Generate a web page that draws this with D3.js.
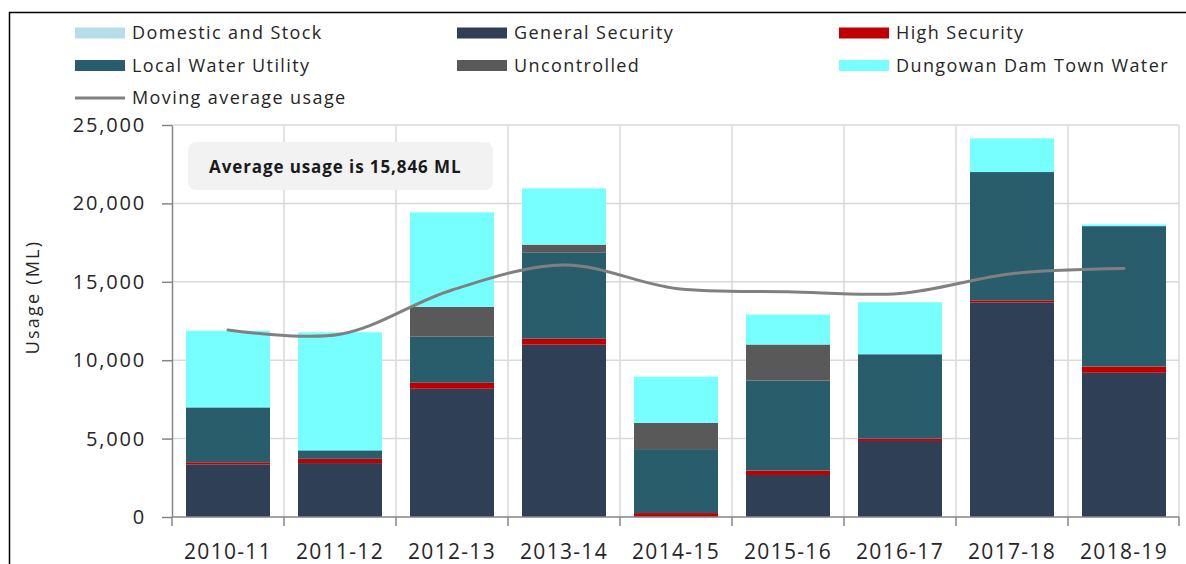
<!DOCTYPE html>
<html>
<head>
<meta charset="utf-8">
<script src="https://cdn.jsdelivr.net/npm/d3@7"></script>
<style>
  body { margin: 0; background: #fff; }
  svg { display: block; font-family: "Open Sans", sans-serif; }
</style>
</head>
<body>
<svg width="1186" height="564"></svg>
<script>
// data (ML)
const categories = ["2010-11", "2011-12", "2012-13", "2013-14", "2014-15", "2015-16", "2016-17", "2017-18", "2018-19"];
const domesticStock = [0, 0, 0, 0, 0, 0, 0, 0, 0];
const generalSecurity = [3360, 3440, 8180, 10990, 0, 2680, 4850, 13690, 9200];
const highSecurity = [130, 270, 380, 380, 250, 280, 150, 130, 400];
const localWaterUtility = [3500, 540, 2940, 5510, 4080, 5740, 5380, 8180, 8950];
const uncontrolled = [0, 0, 1910, 490, 1680, 2300, 0, 0, 0];
const dungowanTown = [4890, 7530, 6020, 3590, 2940, 1910, 3320, 2150, 110];
const movingAverage = [11930, 11650, 14480, 16070, 14580, 14370, 14260, 15520, 15850];
const averageUsage = 15846;
const yTicks = [0, 5000, 10000, 15000, 20000, 25000];

const series = [
  { key: "Domestic and Stock", values: domesticStock, color: "#b7dde8" },
  { key: "General Security", values: generalSecurity, color: "#2f3f56" },
  { key: "High Security", values: highSecurity, color: "#c00000" },
  { key: "Local Water Utility", values: localWaterUtility, color: "#2a5d6b" },
  { key: "Uncontrolled", values: uncontrolled, color: "#595959" },
  { key: "Dungowan Dam Town Water", values: dungowanTown, color: "#77ffff" }
];

const svg = d3.select("svg");

// frame (top + left only visible)
svg.append("path")
  .attr("d", "M9.5,564V12.5H1186")
  .attr("fill", "none")
  .attr("stroke", "#000")
  .attr("stroke-width", 1.5);

const plotLeft = 172, plotRight = 1179, plotTop = 125, plotBottom = 517;

const x = d3.scaleBand()
  .domain(categories)
  .range([plotLeft, plotLeft + 9 * 112])
  .paddingInner(0.25)
  .paddingOuter(0.125);

const y = d3.scaleLinear()
  .domain([0, 25000])
  .range([plotBottom, plotTop]);

// grid
const grid = svg.append("g").attr("stroke", "#d9d9d9").attr("stroke-width", 1.5);
grid.selectAll("line.h")
  .data(yTicks.slice(1))
  .join("line")
  .attr("x1", plotLeft).attr("x2", plotRight)
  .attr("y1", d => y(d)).attr("y2", d => y(d));
const bounds = categories.map(c => x(c) - x.step() * x.paddingInner() / 2).slice(1).concat([plotRight]);
grid.selectAll("line.v")
  .data(bounds)
  .join("line")
  .attr("x1", d => d).attr("x2", d => d)
  .attr("y1", plotTop).attr("y2", plotBottom);

// stacked bars
const table = categories.map((c, i) => {
  const row = { cat: c };
  series.forEach(s => row[s.key] = s.values[i]);
  return row;
});
const stack = d3.stack().keys(series.map(s => s.key));
const layers = stack(table);

svg.append("g")
  .selectAll("g")
  .data(layers)
  .join("g")
  .attr("fill", (d, i) => series[i].color)
  .selectAll("rect")
  .data(d => d)
  .join("rect")
  .attr("x", d => x(d.data.cat))
  .attr("width", x.bandwidth())
  .attr("y", d => y(d[1]))
  .attr("height", d => y(d[0]) - y(d[1]));

// axes
const yAxis = svg.append("g")
  .attr("transform", `translate(${plotLeft},0)`)
  .call(d3.axisLeft(y).tickValues(yTicks).tickSize(10).tickSizeOuter(0).tickPadding(16).tickFormat(d3.format(",")));
yAxis.select(".domain").attr("stroke", "#868686").attr("stroke-width", 1.5);
yAxis.selectAll(".tick line").attr("stroke", "#868686").attr("stroke-width", 1.5);
yAxis.selectAll("text")
  .attr("font-size", 20)
  .attr("letter-spacing", 1.8)
  .attr("fill", "#262626")
  .attr("font-family", "Open Sans");

const xAxis = svg.append("g")
  .attr("transform", `translate(0,${plotBottom})`);
xAxis.append("line")
  .attr("x1", plotLeft).attr("x2", plotRight)
  .attr("stroke", "#868686").attr("stroke-width", 1.5);
xAxis.selectAll("line.tk")
  .data([plotLeft].concat(bounds))
  .join("line")
  .attr("class", "tk")
  .attr("x1", d => d).attr("x2", d => d)
  .attr("y1", 0).attr("y2", 9)
  .attr("stroke", "#868686").attr("stroke-width", 1.5);
xAxis.selectAll("text")
  .data(categories)
  .join("text")
  .attr("x", d => x(d) + x.bandwidth() / 2)
  .attr("y", 42)
  .attr("text-anchor", "middle")
  .attr("font-size", 21)
  .attr("letter-spacing", 1.3)
  .attr("fill", "#262626")
  .text(d => d);

// y title
svg.append("text")
  .attr("transform", "translate(39,297) rotate(-90)")
  .attr("text-anchor", "middle")
  .attr("font-size", 18)
  .attr("letter-spacing", 2.2)
  .attr("fill", "#262626")
  .text("Usage (ML)");

// moving average line
const line = d3.line()
  .x((d, i) => x(categories[i]) + x.bandwidth() / 2)
  .y(d => y(d))
  .curve(d3.curveCatmullRom.alpha(0.5));

svg.append("path")
  .datum(movingAverage)
  .attr("fill", "none")
  .attr("stroke", "#808080")
  .attr("stroke-width", 3)
  .attr("stroke-linecap", "round")
  .attr("d", line);

// annotation
svg.append("rect")
  .attr("x", 188).attr("y", 142)
  .attr("width", 305).attr("height", 48)
  .attr("rx", 8)
  .attr("fill", "#f2f2f2");
svg.append("text")
  .attr("x", 209).attr("y", 173)
  .attr("font-size", 17)
  .attr("letter-spacing", 0.9)
  .attr("font-weight", "bold")
  .attr("fill", "#1a1a1a")
  .text(`Average usage is ${d3.format(",")(averageUsage)} ML`);

// legend
const legendItems = series.map(s => ({ key: s.key, color: s.color, type: "box" }))
  .concat([{ key: "Moving average usage", color: "#808080", type: "line" }]);
const legend = svg.append("g")
  .selectAll("g")
  .data(legendItems)
  .join("g")
  .attr("transform", (d, i) => `translate(${75 + (i % 3) * 382},${33 + Math.floor(i / 3) * 32.5})`);

legend.filter(d => d.type === "box")
  .append("rect")
  .attr("x", 0).attr("y", -5.5)
  .attr("width", 50).attr("height", 11)
  .attr("fill", d => d.color);
legend.filter(d => d.type === "line")
  .append("line")
  .attr("x1", 0).attr("x2", 50)
  .attr("stroke", d => d.color)
  .attr("stroke-width", 3);
legend.append("text")
  .attr("x", 57)
  .attr("dy", "0.35em")
  .attr("font-size", 18)
  .attr("letter-spacing", 1.4)
  .attr("fill", "#262626")
  .text(d => d.key);
</script>
</body>
</html>
